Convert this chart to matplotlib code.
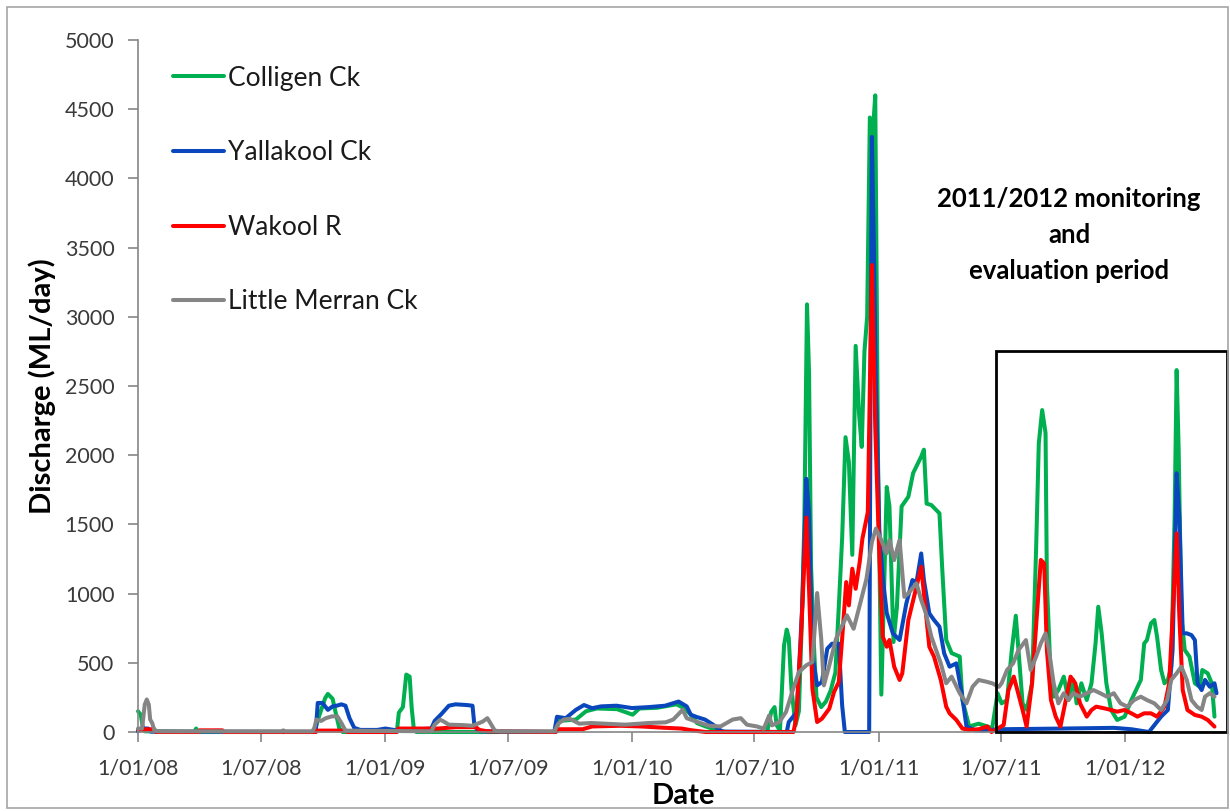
import matplotlib
matplotlib.use('Agg')
import matplotlib.pyplot as plt
import matplotlib.dates as mdates
from matplotlib.patches import Rectangle
from matplotlib.ticker import MultipleLocator, FuncFormatter
import pandas as pd

plt.rcParams['font.family'] = ['Lato', 'DejaVu Sans']

# daily discharge (ML/day) at its turning points
colligen = [
    ('2008-01-01', 150), ('2008-01-05', 125), ('2008-01-08', 40), ('2008-01-11', 5),
    ('2008-03-24', 0), ('2008-03-27', 25), ('2008-03-30', 0), ('2008-09-18', 0),
    ('2008-09-24', 100), ('2008-10-04', 245), ('2008-10-08', 275), ('2008-10-15', 240),
    ('2008-10-19', 150), ('2008-10-25', 25), ('2008-10-30', 0), ('2009-01-18', 0),
    ('2009-01-21', 140), ('2009-01-27', 180), ('2009-02-01', 415), ('2009-02-06', 400),
    ('2009-02-09', 175), ('2009-02-12', 30), ('2009-02-16', 0), ('2009-09-10', 0),
    ('2009-09-15', 80), ('2009-10-10', 90), ('2009-10-25', 150), ('2009-11-10', 170),
    ('2009-12-10', 165), ('2010-01-02', 125), ('2010-01-12', 170), ('2010-02-07', 175),
    ('2010-03-08', 200), ('2010-03-20', 170), ('2010-03-29', 125), ('2010-04-07', 65),
    ('2010-04-20', 40), ('2010-05-08', 12), ('2010-05-20', 0), ('2010-07-20', 0),
    ('2010-07-26', 145), ('2010-07-31', 180), ('2010-08-03', 50), ('2010-08-08', 10),
    ('2010-08-14', 625), ('2010-08-18', 740), ('2010-08-21', 680), ('2010-08-25', 310),
    ('2010-08-31', 50), ('2010-09-05', 150), ('2010-09-09', 750), ('2010-09-13', 1500),
    ('2010-09-17', 3090), ('2010-09-20', 2600), ('2010-09-23', 1200), ('2010-09-27', 650),
    ('2010-10-01', 250), ('2010-10-08', 180), ('2010-10-15', 220), ('2010-10-22', 300),
    ('2010-10-29', 430), ('2010-11-03', 900), ('2010-11-08', 1400), ('2010-11-13', 2130),
    ('2010-11-18', 1950), ('2010-11-23', 1280), ('2010-11-28', 2790), ('2010-12-03', 2300),
    ('2010-12-07', 2060), ('2010-12-11', 2750), ('2010-12-15', 3000), ('2010-12-19', 4440),
    ('2010-12-23', 4300), ('2010-12-27', 4600), ('2010-12-31', 2000), ('2011-01-05', 270),
    ('2011-01-10', 1200), ('2011-01-13', 1770), ('2011-01-17', 1630), ('2011-01-23', 650),
    ('2011-01-28', 900), ('2011-02-04', 1630), ('2011-02-14', 1700), ('2011-02-21', 1870),
    ('2011-03-05', 1990), ('2011-03-09', 2040), ('2011-03-13', 1650), ('2011-03-20', 1640),
    ('2011-04-01', 1580), ('2011-04-05', 1190), ('2011-04-11', 665), ('2011-04-19', 570),
    ('2011-05-01', 545), ('2011-05-05', 230), ('2011-05-15', 40), ('2011-05-29', 60),
    ('2011-06-11', 40), ('2011-06-18', 25), ('2011-06-26', 280), ('2011-07-02', 207),
    ('2011-07-10', 230), ('2011-07-17', 590), ('2011-07-23', 840), ('2011-07-27', 590),
    ('2011-08-02', 207), ('2011-08-08', 160), ('2011-08-16', 350), ('2011-08-22', 1315),
    ('2011-08-26', 2085), ('2011-08-31', 2326), ('2011-09-05', 2160), ('2011-09-07', 1074),
    ('2011-09-13', 352), ('2011-09-17', 255), ('2011-09-24', 303), ('2011-10-02', 400),
    ('2011-10-09', 231), ('2011-10-16', 376), ('2011-10-21', 207), ('2011-10-28', 352),
    ('2011-11-05', 231), ('2011-11-12', 352), ('2011-11-18', 640), ('2011-11-22', 905),
    ('2011-11-27', 713), ('2011-12-04', 352), ('2011-12-11', 159), ('2011-12-20', 87),
    ('2011-12-31', 111), ('2012-01-10', 231), ('2012-01-17', 303), ('2012-01-24', 376),
    ('2012-01-29', 640), ('2012-02-02', 664), ('2012-02-08', 785), ('2012-02-13', 809),
    ('2012-02-17', 689), ('2012-02-23', 448), ('2012-02-28', 352), ('2012-03-04', 376),
    ('2012-03-09', 472), ('2012-03-14', 1556), ('2012-03-17', 2615), ('2012-03-20', 2037),
    ('2012-03-24', 833), ('2012-03-29', 592), ('2012-04-05', 544), ('2012-04-13', 352),
    ('2012-04-20', 327), ('2012-04-24', 448), ('2012-05-02', 424), ('2012-05-08', 352),
    ('2012-05-12', 111),
]

yallakool = [
    ('2008-01-01', 5), ('2008-01-08', 25), ('2008-01-16', 25), ('2008-01-20', 3),
    ('2008-09-20', 0), ('2008-09-23', 210), ('2008-09-30', 210), ('2008-10-08', 160),
    ('2008-10-15', 185), ('2008-10-21', 190), ('2008-10-28', 200), ('2008-11-03', 190),
    ('2008-11-09', 100), ('2008-11-16', 30), ('2008-11-25', 15), ('2008-12-20', 15),
    ('2009-01-01', 25), ('2009-01-20', 10), ('2009-02-20', 20), ('2009-03-10', 25),
    ('2009-03-15', 80), ('2009-03-25', 130), ('2009-04-05', 190), ('2009-04-15', 200),
    ('2009-05-01', 195), ('2009-05-10', 190), ('2009-05-13', 40), ('2009-05-20', 5),
    ('2009-09-08', 0), ('2009-09-12', 110), ('2009-09-25', 100), ('2009-10-10', 160),
    ('2009-10-22', 195), ('2009-11-03', 172), ('2009-11-16', 185), ('2009-12-09', 190),
    ('2010-01-01', 173), ('2010-01-26', 180), ('2010-02-19', 190), ('2010-03-11', 220),
    ('2010-03-23', 185), ('2010-03-29', 125), ('2010-04-07', 108), ('2010-04-19', 90),
    ('2010-05-01', 53), ('2010-05-07', 29), ('2010-05-15', 3), ('2010-08-18', 0),
    ('2010-08-21', 72), ('2010-09-02', 145), ('2010-09-10', 915), ('2010-09-16', 1830),
    ('2010-09-20', 1590), ('2010-09-25', 554), ('2010-10-02', 337), ('2010-10-09', 361),
    ('2010-10-17', 602), ('2010-10-24', 638), ('2010-11-03', 638), ('2010-11-08', 193),
    ('2010-11-12', 0), ('2010-12-18', 0), ('2010-12-20', 2500), ('2010-12-22', 4300),
    ('2010-12-25', 3500), ('2010-12-28', 2500), ('2011-01-02', 1460), ('2011-01-07', 1120),
    ('2011-01-13', 860), ('2011-01-22', 713), ('2011-02-01', 665), ('2011-02-11', 929),
    ('2011-02-20', 1098), ('2011-02-26', 1080), ('2011-03-05', 1290), ('2011-03-09', 1098),
    ('2011-03-17', 857), ('2011-03-24', 809), ('2011-04-01', 761), ('2011-04-08', 568),
    ('2011-04-16', 472), ('2011-04-26', 496), ('2011-05-04', 280), ('2011-05-11', 40),
    ('2011-05-23', 15), ('2011-06-01', 10), ('2011-07-01', 20), ('2011-10-01', 25),
    ('2011-12-15', 30), ('2012-01-10', 20), ('2012-02-05', 0), ('2012-02-23', 111),
    ('2012-03-04', 159), ('2012-03-11', 592), ('2012-03-17', 1870), ('2012-03-21', 1556),
    ('2012-03-26', 713), ('2012-04-01', 713), ('2012-04-08', 700), ('2012-04-13', 664),
    ('2012-04-17', 352), ('2012-04-23', 303), ('2012-04-28', 376), ('2012-05-05', 327),
    ('2012-05-12', 352), ('2012-05-15', 280),
]

wakool = [
    ('2008-01-01', 15), ('2008-01-10', 15), ('2008-01-12', 20), ('2008-01-25', 20),
    ('2008-01-28', 0), ('2008-03-31', 0), ('2008-04-01', 12), ('2008-05-05', 12),
    ('2008-05-07', 0), ('2008-09-20', 0), ('2008-09-22', 10), ('2008-11-03', 10),
    ('2008-11-06', 0), ('2009-01-18', 0), ('2009-01-20', 25), ('2009-03-05', 25),
    ('2009-03-20', 25), ('2009-04-15', 35), ('2009-05-15', 35), ('2009-05-20', 15),
    ('2009-06-01', 5), ('2009-09-10', 0), ('2009-09-15', 20), ('2009-10-20', 20),
    ('2009-11-03', 40), ('2009-12-15', 45), ('2010-01-15', 40), ('2010-02-20', 30),
    ('2010-03-15', 25), ('2010-03-31', 12), ('2010-04-20', 0), ('2010-08-28', 0),
    ('2010-09-01', 96), ('2010-09-08', 674), ('2010-09-16', 1550), ('2010-09-20', 1035),
    ('2010-09-25', 313), ('2010-10-02', 72), ('2010-10-09', 96), ('2010-10-20', 169),
    ('2010-10-27', 289), ('2010-11-03', 361), ('2010-11-08', 674), ('2010-11-14', 1083),
    ('2010-11-18', 915), ('2010-11-23', 1180), ('2010-11-28', 1035), ('2010-12-04', 1228),
    ('2010-12-08', 1397), ('2010-12-16', 1589), ('2010-12-22', 3374), ('2010-12-27', 2200),
    ('2011-01-02', 1276), ('2011-01-07', 690), ('2011-01-13', 616), ('2011-01-17', 665),
    ('2011-01-24', 472), ('2011-02-01', 376), ('2011-02-05', 424), ('2011-02-14', 809),
    ('2011-02-26', 1050), ('2011-03-05', 1194), ('2011-03-09', 1002), ('2011-03-17', 616),
    ('2011-03-24', 544), ('2011-04-03', 376), ('2011-04-11', 183), ('2011-04-16', 135),
    ('2011-04-26', 87), ('2011-05-05', 25), ('2011-05-15', 15), ('2011-05-29', 20),
    ('2011-06-11', 40), ('2011-06-17', 0), ('2011-07-05', 50), ('2011-07-12', 300),
    ('2011-07-20', 400), ('2011-08-02', 160), ('2011-08-08', 39), ('2011-08-16', 352),
    ('2011-08-23', 833), ('2011-08-29', 1243), ('2011-09-03', 1218), ('2011-09-07', 592),
    ('2011-09-13', 231), ('2011-09-20', 111), ('2011-09-27', 39), ('2011-10-05', 231),
    ('2011-10-12', 400), ('2011-10-19', 352), ('2011-10-26', 207), ('2011-11-05', 111),
    ('2011-11-12', 159), ('2011-11-19', 183), ('2011-12-01', 171), ('2011-12-11', 159),
    ('2011-12-20', 147), ('2011-12-31', 159), ('2012-01-10', 135), ('2012-01-19', 111),
    ('2012-01-29', 135), ('2012-02-08', 135), ('2012-02-17', 111), ('2012-02-28', 183),
    ('2012-03-06', 352), ('2012-03-11', 833), ('2012-03-17', 1435), ('2012-03-21', 833),
    ('2012-03-26', 303), ('2012-04-02', 159), ('2012-04-13', 123), ('2012-04-23', 111),
    ('2012-05-02', 87), ('2012-05-12', 39),
]

little_merran = [
    ('2008-01-01', 25), ('2008-01-07', 25), ('2008-01-11', 198), ('2008-01-14', 235),
    ('2008-01-17', 198), ('2008-01-19', 90), ('2008-01-22', 65), ('2008-01-25', 15),
    ('2008-01-30', 5), ('2008-08-01', 5), ('2008-08-03', 12), ('2008-08-05', 5),
    ('2008-09-15', 5), ('2008-09-18', 30), ('2008-09-21', 90), ('2008-09-28', 80),
    ('2008-10-05', 100), ('2008-10-14', 113), ('2008-10-22', 113), ('2008-10-28', 65),
    ('2008-11-03', 10), ('2009-03-10', 5), ('2009-03-15', 53), ('2009-03-23', 89),
    ('2009-03-28', 77), ('2009-04-05', 53), ('2009-04-25', 50), ('2009-05-10', 45),
    ('2009-05-25', 75), ('2009-06-01', 100), ('2009-06-06', 60), ('2009-06-12', 10),
    ('2009-06-20', 5), ('2009-09-08', 5), ('2009-09-14', 60), ('2009-09-22', 90),
    ('2009-10-01', 95), ('2009-10-15', 60), ('2009-11-01', 65), ('2009-12-22', 53),
    ('2010-01-26', 65), ('2010-02-20', 70), ('2010-03-03', 90), ('2010-03-17', 160),
    ('2010-03-23', 100), ('2010-04-05', 77), ('2010-04-25', 45), ('2010-05-12', 40),
    ('2010-05-30', 90), ('2010-06-11', 100), ('2010-06-20', 53), ('2010-07-05', 40),
    ('2010-07-15', 24), ('2010-07-23', 120), ('2010-07-27', 48), ('2010-08-07', 72),
    ('2010-08-17', 145), ('2010-08-26', 289), ('2010-09-05', 433), ('2010-09-16', 482),
    ('2010-09-25', 506), ('2010-10-02', 1004), ('2010-10-08', 674), ('2010-10-12', 337),
    ('2010-10-20', 482), ('2010-10-30', 674), ('2010-11-08', 770), ('2010-11-15', 843),
    ('2010-11-25', 746), ('2010-12-04', 915), ('2010-12-14', 1107), ('2010-12-22', 1372),
    ('2010-12-28', 1470), ('2011-01-04', 1397), ('2011-01-13', 1290), ('2011-01-17', 1387),
    ('2011-01-24', 1242), ('2011-02-01', 1387), ('2011-02-08', 977), ('2011-02-14', 1002),
    ('2011-02-26', 1074), ('2011-03-05', 954), ('2011-03-12', 857), ('2011-03-20', 689),
    ('2011-04-03', 496), ('2011-04-11', 352), ('2011-04-19', 400), ('2011-05-01', 280),
    ('2011-05-11', 207), ('2011-05-20', 327), ('2011-05-29', 376), ('2011-06-09', 364),
    ('2011-06-18', 352), ('2011-06-28', 327), ('2011-07-02', 352), ('2011-07-10', 448),
    ('2011-07-19', 496), ('2011-07-27', 592), ('2011-08-07', 664), ('2011-08-14', 448),
    ('2011-08-22', 544), ('2011-08-29', 640), ('2011-09-05', 713), ('2011-09-10', 592),
    ('2011-09-17', 352), ('2011-09-24', 207), ('2011-10-02', 280), ('2011-10-09', 231),
    ('2011-10-16', 280), ('2011-10-26', 255), ('2011-11-05', 280), ('2011-11-15', 303),
    ('2011-11-25', 280), ('2011-12-05', 255), ('2011-12-15', 280), ('2011-12-25', 207),
    ('2012-01-04', 183), ('2012-01-14', 231), ('2012-01-24', 255), ('2012-02-02', 231),
    ('2012-02-13', 207), ('2012-02-23', 159), ('2012-03-03', 231), ('2012-03-09', 376),
    ('2012-03-17', 424), ('2012-03-24', 472), ('2012-04-01', 376), ('2012-04-08', 231),
    ('2012-04-16', 183), ('2012-04-23', 159), ('2012-04-28', 255), ('2012-05-05', 280),
    ('2012-05-12', 255),
]

series_names = ['Colligen Ck', 'Yallakool Ck', 'Wakool R', 'Little Merran Ck']
series_colors = ['#00b050', '#0a47bd', '#ff0000', '#858585']

period_start = '2011-06-24'
period_end = '2012-05-31'
period_top = 2750
period_text = '2011/2012 monitoring\nand\nevaluation period'

W, H = 1230, 811
fig = plt.figure(figsize=(W / 100, H / 100), dpi=100)
ax = fig.add_axes([138 / W, 1 - 732 / H, (1228 - 138) / W, (732 - 40) / H])

for pts, name, col in zip([colligen, yallakool, wakool, little_merran], series_names, series_colors):
    d = pd.to_datetime([p[0] for p in pts])
    v = [p[1] for p in pts]
    ax.plot(d, v, color=col, lw=2.9, label=name, clip_on=False,
            solid_joinstyle='round', solid_capstyle='round')

ax.set_xlim(pd.Timestamp('2008-01-01'), pd.Timestamp('2012-06-01'))
ax.set_ylim(0, 5000)

ax.yaxis.set_major_locator(MultipleLocator(500))
ax.xaxis.set_major_locator(mdates.MonthLocator(bymonth=[1, 7]))
ax.xaxis.set_major_formatter(FuncFormatter(
    lambda v, p: (lambda d: f"{d.day}/{d.month:02d}/{d.year % 100:02d}")(mdates.num2date(v))))

for s in ['top', 'right']:
    ax.spines[s].set_visible(False)
for s in ['left', 'bottom']:
    ax.spines[s].set_color('#868686')
    ax.spines[s].set_linewidth(1.2)
ax.tick_params(axis='both', direction='out', length=7, width=1.2, color='#868686',
               labelsize=15.5, labelcolor='#3a3a3a')
ax.tick_params(axis='y', pad=10)
ax.tick_params(axis='x', pad=12)

ax.set_ylabel('Discharge (ML/day)', fontsize=21, fontweight='bold')
ax.yaxis.set_label_coords(-0.075, 0.5)
ax.set_xlabel('Date', fontsize=21, fontweight='bold')
ax.xaxis.set_label_coords(0.5, -0.074)

leg = ax.legend(loc='upper left', bbox_to_anchor=(0.032, 0.963), frameon=False,
                fontsize=19, handlelength=1.95, handletextpad=0.12,
                labelspacing=1.88, borderpad=0, borderaxespad=0)
for t in leg.get_texts():
    t.set_color('#1a1a1a')

x0 = mdates.date2num(pd.Timestamp(period_start))
x1 = mdates.date2num(pd.Timestamp(period_end))
ax.add_patch(Rectangle((x0, 0), x1 - x0, period_top, fill=False, ec='black',
                       lw=2, clip_on=False, zorder=5))
ax.text(pd.Timestamp('2011-10-10'), 3591, period_text, ha='center', va='center',
        fontsize=18.5, fontweight='bold', linespacing=1.6)

fig.patches.append(Rectangle((7 / W, 3 / H), 1221 / W, 801 / H, transform=fig.transFigure,
                             fill=False, ec='#a6a6a6', lw=1.2))

fig.savefig('out.png', dpi=100)
